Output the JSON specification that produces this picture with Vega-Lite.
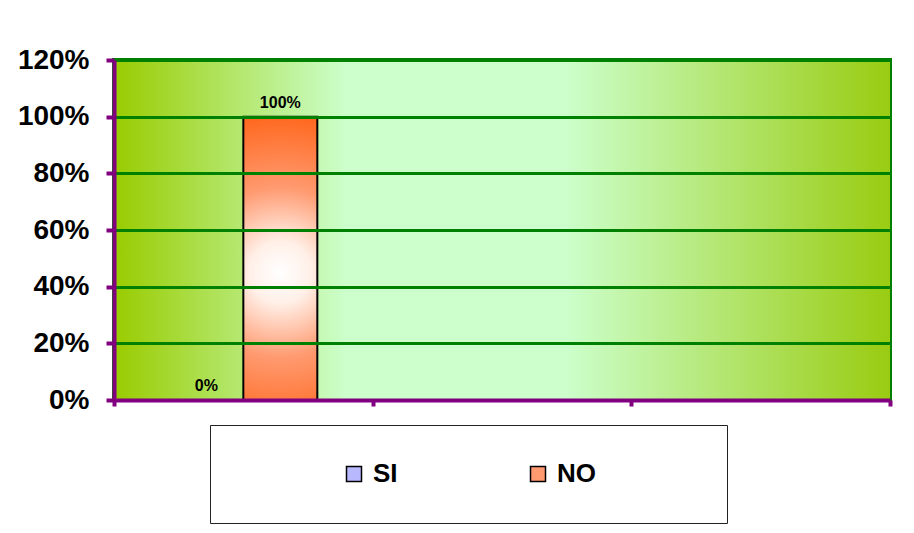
{
  "$schema": "https://vega.github.io/schema/vega-lite/v6.json",
  "width": 776,
  "height": 340,
  "autosize": "none",
  "padding": {"left": 114, "top": 60, "right": 24, "bottom": 133},
  "background": "white",
  "config": {
    "font": "Liberation Sans",
    "view": {"stroke": "#008000", "strokeWidth": 4},
    "legend": {"strokeWidth": 1}
  },
  "data": {"values": [
    {"grupo": "1", "serie": "SI", "valor": 0},
    {"grupo": "1", "serie": "NO", "valor": 1}
  ]},
  "layer": [
    {
      "data": {"values": [{"fondo": "plot"}]},
      "mark": {"type": "rect",
        "fill": {"gradient": "linear", "x1": 0, "y1": 0, "x2": 1, "y2": 0, "stops": [
          {"offset": 0, "color": "#99cc00"},
          {"offset": 0.3, "color": "#ccffcc"},
          {"offset": 0.58, "color": "#ccffcc"},
          {"offset": 1, "color": "#99cc11"}
        ]}},
      "encoding": {}
    },
    {
      "mark": {"type": "bar", "stroke": "black", "strokeWidth": 2,
        "fill": {"gradient": "radial", "x1": 0.5, "y1": 0.55, "r1": 0, "x2": 0.5, "y2": 0.55, "r2": 0.6, "stops": [
          {"offset": 0, "color": "#ffffff"}, {"offset": 0.18, "color": "#fff0e8"}, {"offset": 0.5, "color": "#ff9a70"}, {"offset": 1, "color": "#ff5f10"}]}},
      "encoding": {
        "x": {"field": "grupo", "type": "nominal",
          "scale": {"domain": ["1", "2", "3"], "paddingInner": 0, "paddingOuter": 0},
          "axis": {"title": null, "labels": false, "tickBand": "extent", "domainColor": "#800080", "domainWidth": 4,
            "tickColor": "#800080", "tickWidth": 4, "tickSize": 6, "grid": false, "zindex": 1}},
        "xOffset": {"field": "serie", "type": "nominal",
          "scale": {"domain": ["SI", "NO"], "paddingInner": 0, "paddingOuter": 0.748}},
        "y": {"field": "valor", "type": "quantitative",
          "scale": {"domain": [0, 1.2]},
          "axis": {"title": null, "values": [0, 0.2, 0.4, 0.6, 0.8, 1.0, 1.2], "format": ".0%",
            "labelFont": "Liberation Sans", "labelFontSize": 28, "labelFontWeight": "bold", "labelColor": "black",
            "labelPadding": 17, "domainColor": "#800080", "domainWidth": 4, "tickColor": "#800080", "tickWidth": 4,
            "tickSize": 8, "gridColor": "#008000", "gridWidth": 3, "gridOpacity": 1, "zindex": 1}},
        "color": {"field": "serie", "type": "nominal",
          "scale": {"domain": ["SI", "NO"], "range": ["#b8b8ff", "#ff9a70"]},
          "legend": {"orient": "none", "legendX": 96, "legendY": 365, "direction": "horizontal", "columns": 2,
            "title": null, "fillColor": "white", "strokeColor": "#222222", "padding": 36,
            "symbolType": "square", "symbolSize": 225, "symbolStrokeColor": "black", "symbolStrokeWidth": 1.5,
            "symbolOffset": 95, "labelFont": "Liberation Sans", "labelFontSize": 26, "labelFontWeight": "bold",
            "labelColor": "black", "labelOffset": 6, "columnPadding": 32,
            "labelExpr": "datum.label == 'NO' ? datum.label + '\u2800\u2800\u2800\u2800\u2800' : datum.label",
            "encode": {"symbols": {"update": {
              "fill": [
                {"test": "datum.value === 'NO'", "value": {"gradient": "radial", "x1": 0.5, "y1": 0.5, "r1": 0, "x2": 0.5, "y2": 0.5, "r2": 0.7, "stops": [
                  {"offset": 0, "color": "#ffffff"}, {"offset": 0.4, "color": "#ffc0a0"}, {"offset": 1, "color": "#ff6a20"}]}},
                {"value": {"gradient": "radial", "x1": 0.5, "y1": 0.5, "r1": 0, "x2": 0.5, "y2": 0.5, "r2": 0.7, "stops": [
                  {"offset": 0, "color": "#ffffff"}, {"offset": 0.4, "color": "#dcdcff"}, {"offset": 1, "color": "#8888ff"}]}}
              ],
              "stroke": {"value": "black"},
              "strokeWidth": {"value": 1.5},
              "opacity": {"value": 1}
            }}}}
        }
      }
    },
    {
      "mark": {"type": "text", "baseline": "alphabetic", "dy": -9, "fontSize": 16, "fontWeight": "bold", "color": "black", "font": "Liberation Sans"},
      "encoding": {
        "x": {"field": "grupo", "type": "nominal"},
        "xOffset": {"field": "serie", "type": "nominal"},
        "y": {"field": "valor", "type": "quantitative"},
        "text": {"field": "valor", "type": "quantitative", "format": ".0%"}
      }
    }
  ]
}
